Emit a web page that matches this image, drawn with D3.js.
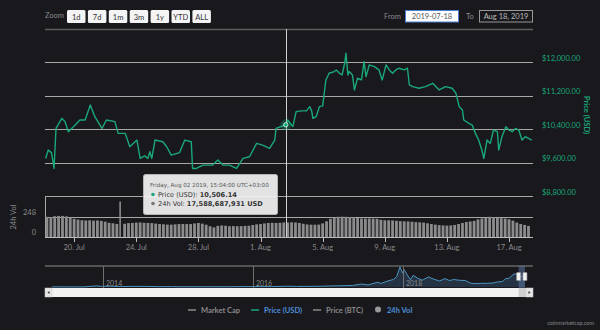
<!DOCTYPE html>
<html><head><meta charset="utf-8">
<script src="https://cdn.jsdelivr.net/npm/d3@7"></script>
<style>body{margin:0;background:#18181d;} svg{display:block;}</style>
</head><body>
<svg id="chart" width="600" height="330"></svg>
<script>
// ---------- DATA ----------
const zoomButtons = ["1d","7d","1m","3m","1y","YTD","ALL"];
const priceTimes = [
"2019-07-18T04:00","2019-07-18T08:00","2019-07-18T13:00","2019-07-18T17:00","2019-07-18T20:00",
"2019-07-19T05:00","2019-07-19T10:00","2019-07-19T15:00","2019-07-19T23:00",
"2019-07-20T09:00","2019-07-20T17:00","2019-07-21T01:00","2019-07-21T08:00","2019-07-21T19:00",
"2019-07-22T02:00","2019-07-22T15:00","2019-07-22T20:00","2019-07-23T07:00","2019-07-23T14:00",
"2019-07-24T01:00","2019-07-24T06:00","2019-07-24T13:00","2019-07-24T18:00","2019-07-24T21:00",
"2019-07-25T00:00","2019-07-25T05:00","2019-07-25T17:00","2019-07-25T23:00","2019-07-26T06:00","2019-07-26T19:00",
"2019-07-27T03:00","2019-07-27T13:00","2019-07-27T15:00","2019-07-27T21:00","2019-07-28T07:00","2019-07-28T22:00",
"2019-07-29T06:00","2019-07-29T14:00","2019-07-30T00:00","2019-07-30T11:00","2019-07-30T21:00",
"2019-07-31T07:00","2019-07-31T18:00","2019-08-01T03:00","2019-08-01T14:00","2019-08-01T22:00",
"2019-08-02T00:00","2019-08-02T15:04","2019-08-02T18:00","2019-08-03T02:00","2019-08-03T07:00","2019-08-03T15:00","2019-08-03T23:00",
"2019-08-04T04:00","2019-08-04T07:00","2019-08-04T09:00","2019-08-04T14:00","2019-08-04T19:00",
"2019-08-05T00:00","2019-08-05T05:00","2019-08-05T10:00","2019-08-05T18:00","2019-08-05T21:00",
"2019-08-06T02:00","2019-08-06T06:00","2019-08-06T10:00","2019-08-06T12:00","2019-08-06T15:00","2019-08-06T17:00","2019-08-06T22:00",
"2019-08-07T01:00","2019-08-07T06:00","2019-08-07T12:00","2019-08-07T16:00","2019-08-07T19:00",
"2019-08-08T00:00","2019-08-08T08:00","2019-08-08T15:00","2019-08-08T20:00",
"2019-08-09T02:00","2019-08-09T07:00","2019-08-09T12:00","2019-08-09T17:00","2019-08-09T22:00",
"2019-08-10T06:00","2019-08-10T11:00","2019-08-10T14:00","2019-08-10T19:00",
"2019-08-11T05:00","2019-08-11T15:00","2019-08-12T02:00","2019-08-12T12:00","2019-08-12T22:00",
"2019-08-13T08:00","2019-08-13T14:00","2019-08-13T19:00","2019-08-14T00:00","2019-08-14T02:00","2019-08-14T10:00","2019-08-14T15:00","2019-08-14T20:00",
"2019-08-15T01:00","2019-08-15T06:00","2019-08-15T09:00","2019-08-15T14:00","2019-08-15T19:00",
"2019-08-16T00:00","2019-08-16T06:00","2019-08-16T08:00","2019-08-16T13:00","2019-08-16T19:00",
"2019-08-17T00:00","2019-08-17T05:00","2019-08-17T10:00","2019-08-17T15:00","2019-08-17T20:00",
"2019-08-18T01:00","2019-08-18T06:00","2019-08-18T11:00"];
const priceUSD = [
9700,9900,9840,9460,10420,
10660,10580,10340,10460,
10620,10620,10980,10700,10420,
10620,10580,10300,10300,9980,
10140,9700,9760,9700,9860,
9700,10140,10100,9980,9780,9840,
10140,10100,9460,9460,9540,9540,
9660,9540,9540,9460,9700,
9740,10060,10020,9940,10140,
10420,10506.14,10620,10460,10820,10840,10840,
10940,10840,10660,10700,10940,
10960,11580,11740,11780,11820,
11740,11700,11980,12220,11700,11780,11700,
11340,11620,11580,12020,11660,
11940,11900,11820,11580,
11940,11820,11740,11820,11860,
11820,11860,11460,11420,
11380,11420,11500,11340,11420,
11380,11260,10940,10860,10620,10540,10500,10300,
10140,9900,9700,10140,10060,
10380,10340,9900,10220,10460,
10380,10340,10420,10380,10140,
10220,10180,10140];
// 24h volume (billions USD), one bar every 6 hours starting 2019-07-18 06:00
const volStart = "2019-07-18T06:00";
const volBillions = [
24.4,24.2,25.2,25.5,25.5,25.0,23.5,22.0,21.0,20.3,
20.0,20.2,19.8,20.0,19.5,18.6,17.2,16.6,15.8,43.0,
16.0,16.8,17.0,17.4,17.6,17.2,17.0,16.8,16.2,15.7,
15.4,15.0,14.9,15.3,15.7,15.8,15.6,15.7,16.4,17.0,
16.2,14.9,13.0,11.6,13.5,14.0,13.6,13.0,13.2,13.0,
13.2,13.5,13.6,14.5,15.3,15.7,16.4,17.0,17.2,17.0,
17.2,17.6,17.6,17.8,17.6,17.0,16.0,15.2,14.9,14.9,
15.0,16.5,19.0,22.0,23.5,24.4,24.6,24.4,24.2,23.8,
23.0,22.4,22.3,22.4,22.3,22.0,20.8,20.2,20.2,20.0,
19.6,19.2,19.0,18.8,18.5,18.0,17.8,17.4,16.6,15.7,
15.0,14.3,14.0,13.8,14.0,14.6,15.7,17.0,18.2,18.8,
19.5,21.3,22.4,23.1,24.4,24.0,23.3,22.8,22.3,21.5,
19.8,17.5,15.7,14.6,13.5];
const priceTicks = [8800, 9600, 10400, 11200, 12000];
const volTicks = [0, 24.8];
const volTickLabels = ["0", "248"];
const xTickDates = ["2019-07-20","2019-07-24","2019-07-28","2019-08-01","2019-08-05","2019-08-09","2019-08-13","2019-08-17"];
// navigator: BTC price (USD, thousands) full history
const navDates = ["2013-04-28","2013-06-01","2013-08-01","2013-10-01","2013-11-30","2013-12-20","2014-02-01","2014-04-01","2014-06-01","2014-08-01","2014-10-01","2014-12-01",
"2015-01-15","2015-03-01","2015-05-01","2015-07-01","2015-09-01","2015-11-05","2015-12-20","2016-02-01","2016-04-01","2016-06-18","2016-08-01","2016-10-01","2016-12-01",
"2017-01-05","2017-03-01","2017-05-01","2017-06-12","2017-07-15","2017-09-01","2017-09-15","2017-10-20","2017-11-15","2017-12-01","2017-12-17","2017-12-30",
"2018-01-06","2018-02-06","2018-02-20","2018-03-15","2018-04-06","2018-05-05","2018-06-01","2018-06-28","2018-07-25","2018-08-15","2018-09-05","2018-10-01","2018-11-01","2018-11-25","2018-12-15",
"2019-01-15","2019-02-15","2019-03-15","2019-04-05","2019-05-01","2019-05-15","2019-06-01","2019-06-26","2019-07-10","2019-07-17","2019-08-02","2019-08-18"];
const navPrices = [0.14,0.12,0.10,0.13,1.1,0.65,0.82,0.46,0.63,0.58,0.35,0.38,
0.21,0.26,0.23,0.26,0.23,0.40,0.44,0.37,0.42,0.75,0.58,0.61,0.75,
1.0,1.2,1.5,2.9,2.0,4.7,3.4,5.9,7.3,10.0,19.5,13.5,
17.0,7.0,11.4,8.3,6.7,9.8,7.5,5.9,8.2,6.3,7.3,6.6,6.3,3.8,3.3,
3.6,3.6,3.9,4.9,5.4,8.0,8.5,12.9,12.2,9.6,10.5,10.2];
const navYears = ["2014-01-01","2016-01-01","2018-01-01"];
const legendItems = ["Market Cap","Price (USD)","Price (BTC)","24h Vol"];

// ---------- CHART ----------
const svg = d3.select("#chart");
const FONT = "Lato, 'DejaVu Sans', sans-serif";
const parse = d3.utcParse("%Y-%m-%dT%H:%M");
const parseDay = d3.utcParse("%Y-%m-%d");
const L = 45, R = 533;
const GREEN = "#1aa87b";

svg.append("rect").attr("width",600).attr("height",330).attr("fill","#18181d");

const x = d3.scaleUtc().domain([parse("2019-07-18T03:00"), parse("2019-08-18T13:00")]).range([L, R]);
const yP = d3.scaleLinear().domain([8800, 12800]).range([196, 29]);
const yV = d3.scaleLinear().domain([0, 49.6]).range([237, 196]);

// top controls
const ctrl = svg.append("g").attr("font-family", FONT);
ctrl.append("text").attr("x",45).attr("y",18).attr("font-size",7.5).attr("fill","#8a8a8a").text("Zoom");
const btn = ctrl.selectAll("g.btn").data(zoomButtons).join("g").attr("class","btn")
  .attr("transform",(d,i)=>`translate(${67+i*20.9},10)`);
btn.append("rect").attr("width",18.5).attr("height",13).attr("rx",1.5).attr("fill","#f4f4f4");
btn.append("text").attr("x",9.25).attr("y",9.5).attr("text-anchor","middle").attr("font-size",7.5).attr("fill","#333").text(d=>d);
ctrl.append("text").attr("x",384).attr("y",18.5).attr("font-size",7.5).attr("fill","#8a8a8a").text("From");
ctrl.append("rect").attr("x",405.5).attr("y",10.5).attr("width",53).attr("height",11.5).attr("fill","#fff").attr("stroke","#4c7fd1");
ctrl.append("text").attr("x",432).attr("y",19).attr("text-anchor","middle").attr("font-size",7.5).attr("fill","#555").text("2019-07-18");
ctrl.append("text").attr("x",466).attr("y",18.5).attr("font-size",7.5).attr("fill","#8a8a8a").text("To");
ctrl.append("rect").attr("x",479.5).attr("y",10.5).attr("width",53).attr("height",11.5).attr("fill","none").attr("stroke","#999");
ctrl.append("text").attr("x",506).attr("y",19).attr("text-anchor","middle").attr("font-size",7.5).attr("fill","#bbb").text("Aug 18, 2019");

// plot top border
svg.append("line").attr("x1",L).attr("x2",R).attr("y1",29.5).attr("y2",29.5).attr("stroke","#5c5c5c").attr("stroke-width",1.5);

// price gridlines + labels
svg.append("g").selectAll("line").data(priceTicks).join("line")
  .attr("x1",L).attr("x2",R).attr("y1",d=>Math.round(yP(d))+0.5).attr("y2",d=>Math.round(yP(d))+0.5)
  .attr("stroke","#a8a8a8").attr("stroke-width",1);
svg.append("g").attr("font-family",FONT).selectAll("text").data(priceTicks).join("text")
  .attr("x",542).attr("y",d=>yP(d)-1.5).attr("font-size",7.5).attr("fill",GREEN)
  .text(d=>"$"+d3.format(",.2f")(d));
svg.append("text").attr("transform","translate(584,115) rotate(90)").attr("text-anchor","middle")
  .attr("font-family",FONT).attr("font-size",7.5).attr("font-weight","bold").attr("fill",GREEN).text("Price (USD)");

// volume pane
svg.append("line").attr("x1",L+0.5).attr("x2",L+0.5).attr("y1",196).attr("y2",237).attr("stroke","#aaa");
svg.append("g").selectAll("line").data(volTicks).join("line")
  .attr("x1",L).attr("x2",R).attr("y1",d=>Math.round(yV(d))+0.5).attr("y2",d=>Math.round(yV(d))+0.5)
  .attr("stroke","#a8a8a8");
const v0 = parse(volStart);
const volData = volBillions.map((v,i)=>({t:d3.utcHour.offset(v0, 6*i), v}));
svg.append("g").selectAll("rect").data(volData).join("rect")
  .attr("x",d=>x(d.t)-1.4).attr("width",d=>d.v>30?1.6:2.8)
  .attr("y",d=>yV(d.v)).attr("height",d=>yV(0)-yV(d.v)).attr("fill","#8c8c8c");
svg.append("g").attr("font-family",FONT).selectAll("text").data(volTicks).join("text")
  .attr("x",36).attr("y",d=>yV(d)-2).attr("text-anchor","end").attr("font-size",7.5).attr("fill","#8a8a8a")
  .text((d,i)=>volTickLabels[i]);
svg.append("text").attr("transform","translate(16,217) rotate(-90)").attr("text-anchor","middle")
  .attr("font-family",FONT).attr("font-size",7.5).attr("fill","#8a8a8a").text("24h Vol");
// x axis
svg.append("line").attr("x1",L).attr("x2",R).attr("y1",237.5).attr("y2",237.5).attr("stroke","#bbb");
const xt = xTickDates.map(parseDay);
svg.append("g").selectAll("line").data(xt).join("line")
  .attr("x1",d=>Math.round(x(d))+0.5).attr("x2",d=>Math.round(x(d))+0.5).attr("y1",237).attr("y2",242).attr("stroke","#bbb");
svg.append("g").attr("font-family",FONT).selectAll("text").data(xt).join("text")
  .attr("x",d=>x(d)).attr("y",250).attr("text-anchor","middle").attr("font-size",7.5).attr("fill","#8a8a8a")
  .text(d3.utcFormat("%-d. %b"));

// price line
const pData = priceTimes.map((t,i)=>({t:parse(t), v:priceUSD[i]}));
svg.append("path").datum(pData).attr("fill","none").attr("stroke",GREEN).attr("stroke-width",1.4)
  .attr("stroke-linejoin","round")
  .attr("d", d3.line().x(d=>x(d.t)).y(d=>yP(d.v)));

// crosshair + marker
const hover = pData[47];
const cx = x(hover.t);
svg.append("line").attr("x1",Math.round(cx)+0.5).attr("x2",Math.round(cx)+0.5).attr("y1",29).attr("y2",237).attr("stroke","#cfcfcf");
svg.append("circle").attr("cx",cx).attr("cy",yP(hover.v)).attr("r",5.5).attr("fill",GREEN).attr("opacity",0.3);
svg.append("circle").attr("cx",cx).attr("cy",yP(hover.v)).attr("r",2.2).attr("fill",GREEN).attr("stroke","#dfe").attr("stroke-width",0.8);

// tooltip
const tip = svg.append("g").attr("font-family","'DejaVu Sans', sans-serif");
tip.append("rect").attr("x",143.5).attr("y",174.5).attr("width",134).attr("height",40).attr("rx",2)
  .attr("fill","#f4f4f4").attr("fill-opacity",0.92).attr("stroke","#b5b5b5");
tip.append("text").attr("x",150).attr("y",187).attr("font-size",5.6).attr("fill","#555")
  .text("Friday, Aug 02 2019, 15:04:00 UTC+03:00");
tip.append("circle").attr("cx",153).attr("cy",194.5).attr("r",1.8).attr("fill",GREEN);
const t1 = tip.append("text").attr("x",158).attr("y",197).attr("font-size",6.6).attr("fill","#333");
t1.append("tspan").text("Price (USD): ");
t1.append("tspan").attr("font-weight","bold").text(d3.format(",.2f")(hover.v));
tip.append("circle").attr("cx",153).attr("cy",203.5).attr("r",1.8).attr("fill","#777");
const t2 = tip.append("text").attr("x",158).attr("y",206).attr("font-size",6.6).attr("fill","#333");
t2.append("tspan").text("24h Vol: ");
t2.append("tspan").attr("font-weight","bold").text("17,588,687,931 USD");

// navigator
const nx = d3.scaleUtc().domain([parseDay("2014-01-01"), parseDay("2018-01-01")]).range([103, 403]);
const ny = d3.scaleLinear().domain([0, 19.5]).range([287, 267]);
const nav = navDates.map((d,i)=>({t:parseDay(d), v:navPrices[i]}));
svg.append("path").datum(nav).attr("fill","#27374a").attr("fill-opacity",0.85)
  .attr("d", d3.area().x(d=>nx(d.t)).y0(287).y1(d=>ny(d.v)));
svg.append("path").datum(nav).attr("fill","none").attr("stroke","#4d95c2").attr("stroke-width",1)
  .attr("d", d3.line().x(d=>nx(d.t)).y(d=>ny(d.v)));
const nyr = navYears.map(parseDay);
svg.append("g").selectAll("line").data(nyr).join("line")
  .attr("x1",d=>Math.round(nx(d))+0.5).attr("x2",d=>Math.round(nx(d))+0.5).attr("y1",266).attr("y2",288).attr("stroke","#6f6f6f");
svg.append("g").attr("font-family",FONT).selectAll("text").data(nyr).join("text")
  .attr("x",d=>nx(d)+3).attr("y",286).attr("font-size",7).attr("fill","#8a8a8a").text(d3.utcFormat("%Y"));
svg.append("line").attr("x1",L).attr("x2",R).attr("y1",266).attr("y2",266).attr("stroke","#666").attr("stroke-width",1.5);
// selection mask and handles
const s0 = nx(parseDay("2019-07-18")), s1 = nx(parseDay("2019-08-18"));
svg.append("rect").attr("x",s0).attr("y",266).attr("width",s1-s0).attr("height",22).attr("fill","#6a86b8").attr("fill-opacity",0.45);
[s0, s1].forEach(h=>{
  svg.append("rect").attr("x",h-2).attr("y",272.5).attr("width",4).attr("height",8).attr("rx",0.5).attr("fill","#f2f2f2").attr("stroke","#999").attr("stroke-width",0.6);
});
// scrollbar
svg.append("rect").attr("x",L).attr("y",288).attr("width",R-L).attr("height",9).attr("fill","#f2f2f2");
svg.append("rect").attr("x",s0).attr("y",288).attr("width",s1-s0+2).attr("height",9).attr("fill","#cfcfcf");
svg.append("rect").attr("x",L).attr("y",288).attr("width",7).attr("height",9).attr("fill","#e4e4e4").attr("stroke","#ccc").attr("stroke-width",0.5);
svg.append("rect").attr("x",R-7).attr("y",288).attr("width",7).attr("height",9).attr("fill","#e4e4e4").attr("stroke","#ccc").attr("stroke-width",0.5);
svg.append("path").attr("d",`M${L+2.5},292.5 L${L+4.5},291 L${L+4.5},294 Z`).attr("fill","#333");
svg.append("path").attr("d",`M${R-2.5},292.5 L${R-4.5},291 L${R-4.5},294 Z`).attr("fill","#333");

// legend
const lg = svg.append("g").attr("font-family",FONT).attr("font-size",7.5).attr("font-weight","bold");
const lx = [188, 251, 313, 374];
const lcol = ["#8a8a8a","#4f8fd8","#8a8a8a","#4f8fd8"];
const lsym = ["#8a8a8a",GREEN,"#8a8a8a","#999"];
legendItems.forEach((name,i)=>{
  if (i<3) lg.append("line").attr("x1",lx[i]).attr("x2",lx[i]+8).attr("y1",310).attr("y2",310).attr("stroke",lsym[i]).attr("stroke-width",1.5);
  else lg.append("circle").attr("cx",lx[i]+4).attr("cy",309.5).attr("r",3).attr("fill",lsym[i]);
  lg.append("text").attr("x",lx[i]+13).attr("y",312.5).attr("fill",lcol[i]).text(name);
});
svg.append("text").attr("x",594).attr("y",325).attr("text-anchor","end").attr("font-family",FONT)
  .attr("font-size",5.5).attr("fill","#888").text("coinmarketcap.com");
</script>
</body></html>
